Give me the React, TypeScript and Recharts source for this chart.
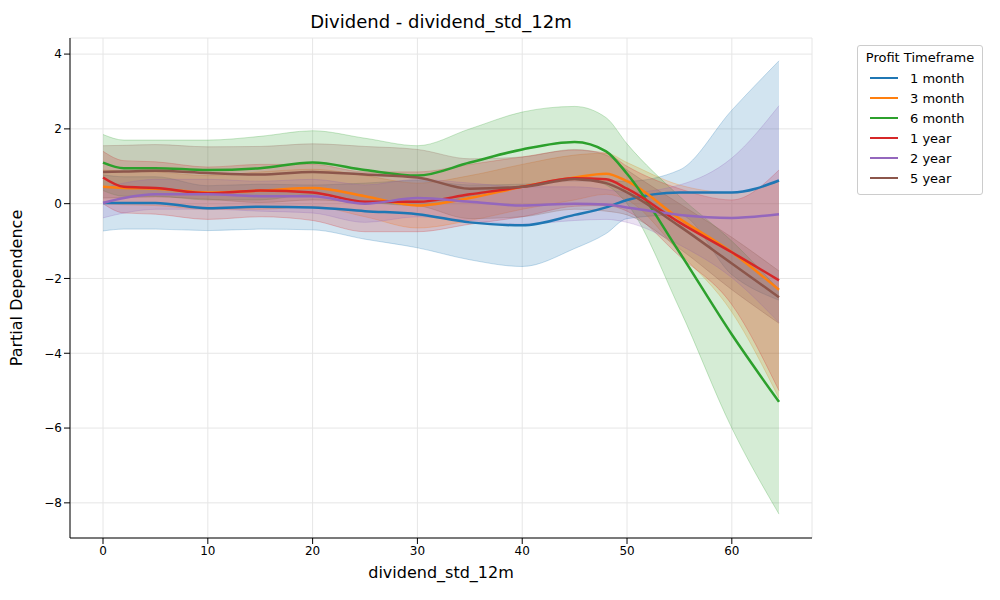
import { ComposedChart, Line, Area, XAxis, YAxis, CartesianGrid, Label } from "recharts";

const xs = [0, 2, 5, 10, 15, 20, 25, 30, 35, 40, 45, 48, 50, 55, 60, 64.5];

const m1 = [0.02, 0.02, 0.02, -0.12, -0.08, -0.1, -0.2, -0.28, -0.5, -0.58, -0.3, -0.1, 0.1, 0.3, 0.3, 0.62];
const m3 = [0.45, 0.42, 0.4, 0.3, 0.35, 0.42, 0.2, -0.05, 0.15, 0.45, 0.7, 0.8, 0.6, -0.4, -1.3, -2.3];
const m6 = [1.1, 0.95, 0.95, 0.9, 0.95, 1.1, 0.9, 0.75, 1.1, 1.45, 1.65, 1.4, 0.8, -1.3, -3.5, -5.3];
const y1 = [0.7, 0.45, 0.42, 0.28, 0.35, 0.3, 0.05, 0.05, 0.25, 0.45, 0.68, 0.65, 0.4, -0.5, -1.3, -2.05];
const y2 = [0.02, 0.15, 0.25, 0.25, 0.2, 0.2, 0.0, 0.15, 0.05, -0.05, 0.0, -0.02, -0.1, -0.3, -0.38, -0.28];
const y5 = [0.85, 0.86, 0.88, 0.82, 0.78, 0.85, 0.78, 0.7, 0.4, 0.45, 0.65, 0.55, 0.3, -0.6, -1.6, -2.5];

const h1 = [0.75, 0.7, 0.7, 0.6, 0.6, 0.6, 0.75, 0.9, 1.0, 1.1, 0.9, 0.7, 0.5, 0.6, 2.2, 3.2];
const h3 = [0.45, 0.45, 0.45, 0.45, 0.5, 0.5, 0.55, 0.6, 0.6, 0.6, 0.6, 0.55, 0.5, 0.9, 1.6, 2.9];
const h6 = [0.75, 0.75, 0.75, 0.8, 0.85, 0.85, 0.85, 0.8, 0.9, 1.0, 0.95, 0.9, 0.8, 1.5, 2.5, 3.0];
const hy1 = [0.7, 0.7, 0.7, 0.7, 0.7, 0.75, 0.8, 0.8, 0.8, 0.8, 0.75, 0.7, 0.6, 0.9, 1.4, 2.95];
const hy2 = [0.4, 0.4, 0.4, 0.4, 0.4, 0.45, 0.5, 0.5, 0.5, 0.5, 0.45, 0.4, 0.4, 0.8, 1.6, 2.9];
const hy5 = [0.7, 0.7, 0.7, 0.7, 0.75, 0.75, 0.75, 0.75, 0.8, 0.8, 0.8, 0.75, 0.6, 0.6, 0.7, 0.7];

const series = [
  { key: "m1", name: "1 month", color: "#1f77b4", vals: m1, half: h1 },
  { key: "m3", name: "3 month", color: "#ff7f0e", vals: m3, half: h3 },
  { key: "m6", name: "6 month", color: "#2ca02c", vals: m6, half: h6 },
  { key: "y1", name: "1 year", color: "#d62728", vals: y1, half: hy1 },
  { key: "y2", name: "2 year", color: "#9467bd", vals: y2, half: hy2 },
  { key: "y5", name: "5 year", color: "#8c564b", vals: y5, half: hy5 },
];

const yTicks = [-8, -6, -4, -2, 0, 2, 4];
const xTicks = [0, 10, 20, 30, 40, 50, 60];

const data = xs.map((x, i) => {
  const row: Record<string, any> = { x };
  series.forEach((s) => {
    row[s.key] = s.vals[i];
    row[s.key + "_b"] = [s.vals[i] - s.half[i], s.vals[i] + s.half[i]];
  });
  return row;
});

const fmt = (v: number) => (v < 0 ? "\u2212" + Math.abs(v) : String(v));
const font = "DejaVu Sans";

export default function App() {
  return (
    <div style={{ position: "absolute", left: 0, top: 0, width: 1000, height: 600, background: "#fff", fontFamily: font }}>
      <div style={{ position: "absolute", top: 11, left: 70, width: 742, textAlign: "center", fontSize: 18 }}>
        Dividend - dividend_std_12m
      </div>
      <ComposedChart width={1000} height={600} data={data} margin={{ top: 38, right: 188, left: 8, bottom: 8 }}>
        <CartesianGrid stroke="#e6e6e6" />
        <XAxis
          dataKey="x"
          type="number"
          domain={[-3.15, 67.65]}
          ticks={xTicks}
          height={54}
          tick={{ fill: "#000", fontSize: 12, fontFamily: font }}
          stroke="#000"
          allowDataOverflow
        >
          <Label value="dividend_std_12m" position="insideBottom" offset={14} style={{ fontSize: 16, fill: "#000", fontFamily: font }} />
        </XAxis>
        <YAxis
          type="number"
          domain={[-8.94, 4.43]}
          ticks={yTicks}
          tickFormatter={fmt}
          width={62}
          tick={{ fill: "#000", fontSize: 12, fontFamily: font }}
          stroke="#000"
          allowDataOverflow
        >
          <Label value="Partial Dependence" angle={-90} position="insideLeft" offset={8} style={{ fontSize: 16, fill: "#000", fontFamily: font, textAnchor: "middle" }} />
        </YAxis>
        {series.map((s) => (
          <Area
            key={s.key + "_b"}
            dataKey={s.key + "_b"}
            type="monotone"
            stroke={s.color}
            strokeOpacity={0.25}
            fill={s.color}
            fillOpacity={0.2}
            isAnimationActive={false}
          />
        ))}
        {series.map((s) => (
          <Line key={s.key} dataKey={s.key} type="monotone" stroke={s.color} strokeWidth={2.5} dot={false} isAnimationActive={false} />
        ))}
      </ComposedChart>
      <div
        style={{
          position: "absolute",
          left: 857,
          top: 45,
          width: 124,
          border: "1px solid #ccc",
          borderRadius: 3,
          padding: "4px 0 6px 0",
          fontSize: 13,
        }}
      >
        <div style={{ textAlign: "center", marginBottom: 3 }}>Profit Timeframe</div>
        {series.map((s) => (
          <div key={s.key} style={{ display: "flex", alignItems: "center", height: 20, paddingLeft: 12 }}>
            <div style={{ width: 28, height: 2.5, background: s.color, marginRight: 12 }} />
            {s.name}
          </div>
        ))}
      </div>
    </div>
  );
}
